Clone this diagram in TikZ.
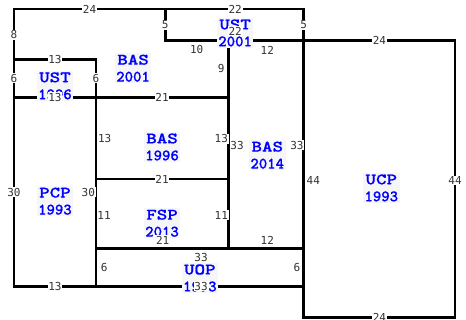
\documentclass[tikz,border=0pt]{standalone}
\usepackage{fontspec}
\newfontfamily\labelfont{DejaVu Sans Mono}
\IfFontExistsTF{lmmonolt10-bold.otf}
  {\newfontfamily\namefont{lmmonolt10-bold.otf}[FakeBold=0.6]}
  {\newfontfamily\namefont{lmmono10-regular.otf}[FakeBold=2.5]}
\definecolor{labgray}{HTML}{333333}
\definecolor{namebg}{HTML}{F6F6F6}
\newcommand{\widecaps}[1]{\scalebox{1.25}[1]{#1}}
\begin{document}
\begin{tikzpicture}[x=6.3pt,y=-6.3pt,
  poly/.style={draw=black,line width=2.8pt,line join=miter},
  regname/.style={fill=namebg,text=blue,inner sep=1.5pt,align=center,
    font=\namefont\fontsize{16}{17}\selectfont},
  dimlab/.style={fill=white,text=labgray,inner sep=0.8pt,
    font=\labelfont\fontsize{11}{11}\selectfont}]
\useasboundingbox (-14pt,9pt) rectangle (452pt,-311pt);
% regions
\draw[poly] (0,0) -- (24,0) -- (24,5) -- (34,5) -- (34,14) -- (13,14) -- (13,8) -- (0,8) -- cycle;
\draw[poly] (24,0) rectangle (46,5);
\draw[poly] (0,8) rectangle (13,14);
\draw[poly] (0,14) rectangle (13,44);
\draw[poly] (13,14) rectangle (34,27);
\draw[poly] (13,27) rectangle (34,38);
\draw[poly] (34,5) rectangle (46,38);
\draw[poly] (13,38) rectangle (46,44);
\draw[poly] (46,5) rectangle (70,49);
% names
\node[regname] (bas01) at (18.9,9.4) {\widecaps{BAS}\\2001};
\node[regname] (ust01) at (35.1,3.8) {\widecaps{UST}\\2001};
\node[regname] (ust96) at (6.5,12.2) {\widecaps{UST}\\1996};
\node[regname] (bas96) at (23.5,21.9) {\widecaps{BAS}\\1996};
\node[regname] (bas14) at (40.2,23.2) {\widecaps{BAS}\\2014};
\node[regname] (pcp93) at (6.5,30.5) {\widecaps{PCP}\\1993};
\node[regname] (fsp13) at (23.5,34) {\widecaps{FSP}\\2013};
\node[regname] (uop93) at (29.5,42.7) {\widecaps{UOP}\\1993};
\node[regname] (ucp93) at (58.3,28.4) {\widecaps{UCP}\\1993};
% dimension labels
\node[dimlab] (l1) at (12,0) {24};
\node[dimlab] (l2) at (0,4.1) {8};
\node[dimlab] (l3) at (6.5,8) {13};
\node[dimlab] (l4) at (0,11) {6};
\node[dimlab] (l5) at (13,11) {6};
\node[dimlab] (l6) at (6.5,14) {13};
\node[dimlab] (l7) at (23.5,14) {21};
\node[dimlab] (l8) at (35.1,0) {22};
\node[dimlab] (l9) at (24,2.5) {5};
\node[dimlab] (l10) at (46,2.5) {5};
\node[dimlab] (l11) at (35.1,3.5) {22};
\node[dimlab] (l12) at (29,6.5) {10};
\node[dimlab] (l13) at (40.2,6.5) {12};
\node[dimlab] (l14) at (32.9,9.4) {9};
\node[dimlab] (l15) at (58,5) {24};
\node[dimlab] (l16) at (47.5,27.2) {44};
\node[dimlab] (l17) at (70,27.2) {44};
\node[dimlab] (l18) at (58,49) {24};
\node[dimlab] (l19) at (14.4,20.6) {13};
\node[dimlab] (l20) at (32.9,20.6) {13};
\node[dimlab] (l21) at (35.4,21.6) {33};
\node[dimlab] (l22) at (44.9,21.6) {33};
\node[dimlab] (l23) at (0,29.1) {30};
\node[dimlab] (l24) at (11.8,29.1) {30};
\node[dimlab] (l25) at (23.5,27) {21};
\node[dimlab] (l26) at (14.3,32.7) {11};
\node[dimlab] (l27) at (32.9,32.7) {11};
\node[dimlab] (l28) at (23.6,36.7) {21};
\node[dimlab] (l29) at (40.2,36.7) {12};
\node[dimlab] (l30) at (29.7,39.5) {33};
\node[dimlab] (l31) at (14.3,41.1) {6};
\node[dimlab] (l32) at (44.9,41.1) {6};
\node[dimlab] (l33) at (29.7,44) {33};
\node[dimlab] (l34) at (6.5,44) {13};
\end{tikzpicture}
\end{document}
